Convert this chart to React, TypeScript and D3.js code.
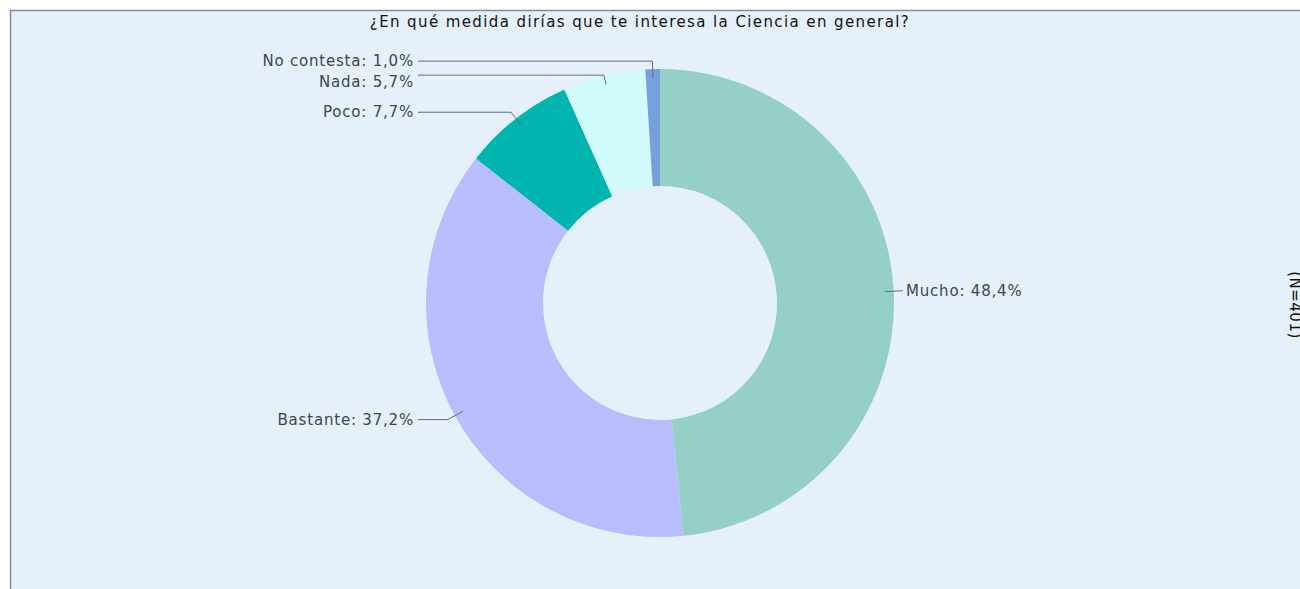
import React from "react";
import * as d3 from "d3";

const categories = ["Mucho", "Bastante", "Poco", "Nada", "No contesta"];
const values = [48.4, 37.2, 7.7, 5.7, 1.0];
const colors = ["#94d0c6", "#b8bdfe", "#00b5b0", "#d2fcfc", "#779fdb"];
const title = "¿En qué medida dirías que te interesa la Ciencia en general?";
const sideNote = "(N=401)";

const W = 1300;
const H = 589;
const cx = 660;
const cy = 303;
const outerR = 234;
const innerR = 117;
const font = "'DejaVu Sans', Verdana, sans-serif";

export default function App() {
  const pie = d3
    .pie<number>()
    .sort(null)
    .startAngle(0)
    .endAngle(2 * Math.PI)
    .value((d) => d);
  const arcs = pie(values);
  const arc = d3.arc<d3.PieArcDatum<number>>().innerRadius(innerR).outerRadius(outerR);
  const fmt = (v: number) => v.toFixed(1).replace(".", ",") + "%";

  const items = arcs.map((a, i) => {
    const mid = (a.startAngle + a.endAngle) / 2;
    const sx = Math.sin(mid);
    const sy = -Math.cos(mid);
    return {
      i,
      sx,
      sy,
      right: sx > 0,
      startX: cx + 225 * sx,
      startY: cy + 225 * sy,
      natY: cy + 242 * sy,
      lineY: 0,
      labelY: 0,
      elbowX: 0,
    };
  });
  const sides = [items.filter((d) => d.right), items.filter((d) => !d.right)];
  sides.forEach((side) => {
    side.sort((a, b) => a.natY - b.natY);
    let prevLine = -Infinity;
    let prevLabel = -Infinity;
    side.forEach((d) => {
      d.lineY = Math.max(d.natY, prevLine + 14);
      d.labelY = Math.max(d.natY, prevLabel + 21);
      prevLine = d.lineY;
      prevLabel = d.labelY;
      const r = (d.lineY - cy) / d.sy;
      d.elbowX = cx + r * d.sx;
    });
  });

  return (
    <div style={{ position: "fixed", left: 0, top: 0 }}>
      <svg width={W} height={H} style={{ display: "block" }}>
        <rect x={0} y={0} width={W} height={H} fill="#ffffff" />
        <rect x={10.5} y={10.5} width={W + 20} height={H + 20} fill="#e6f0fa" stroke="#7f8a9a" strokeWidth={1.5} />
        <text
          x={640}
          y={27}
          textAnchor="middle"
          fontFamily={font}
          fontSize={15}
          letterSpacing={1.4}
          fill="#111"
        >
          {title}
        </text>
        <g transform={`translate(${cx},${cy})`}>
          {arcs.map((a, i) => (
            <path key={categories[i]} d={arc(a) || ""} fill={colors[i]} />
          ))}
        </g>
        {items.map((d) => {
          const endX = d.right ? 903 : 418;
          const textX = d.right ? 906 : 414;
          return (
            <g key={categories[d.i]}>
              <polyline
                points={`${d.startX},${d.startY} ${d.elbowX},${d.lineY} ${endX},${d.lineY}`}
                fill="none"
                stroke="#646b7c"
                strokeWidth={1}
              />
              <text
                x={textX}
                y={d.labelY}
                dy="0.35em"
                textAnchor={d.right ? "start" : "end"}
                fontFamily={font}
                fontSize={15}
                letterSpacing={0.8}
                fill="#3d4459"
              >
                {`${categories[d.i]}: ${fmt(values[d.i])}`}
              </text>
            </g>
          );
        })}
        <text
          transform={`translate(1290,305) rotate(90)`}
          textAnchor="middle"
          fontFamily={font}
          fontSize={15}
          letterSpacing={0.5}
          fill="#111"
        >
          {sideNote}
        </text>
      </svg>
    </div>
  );
}
